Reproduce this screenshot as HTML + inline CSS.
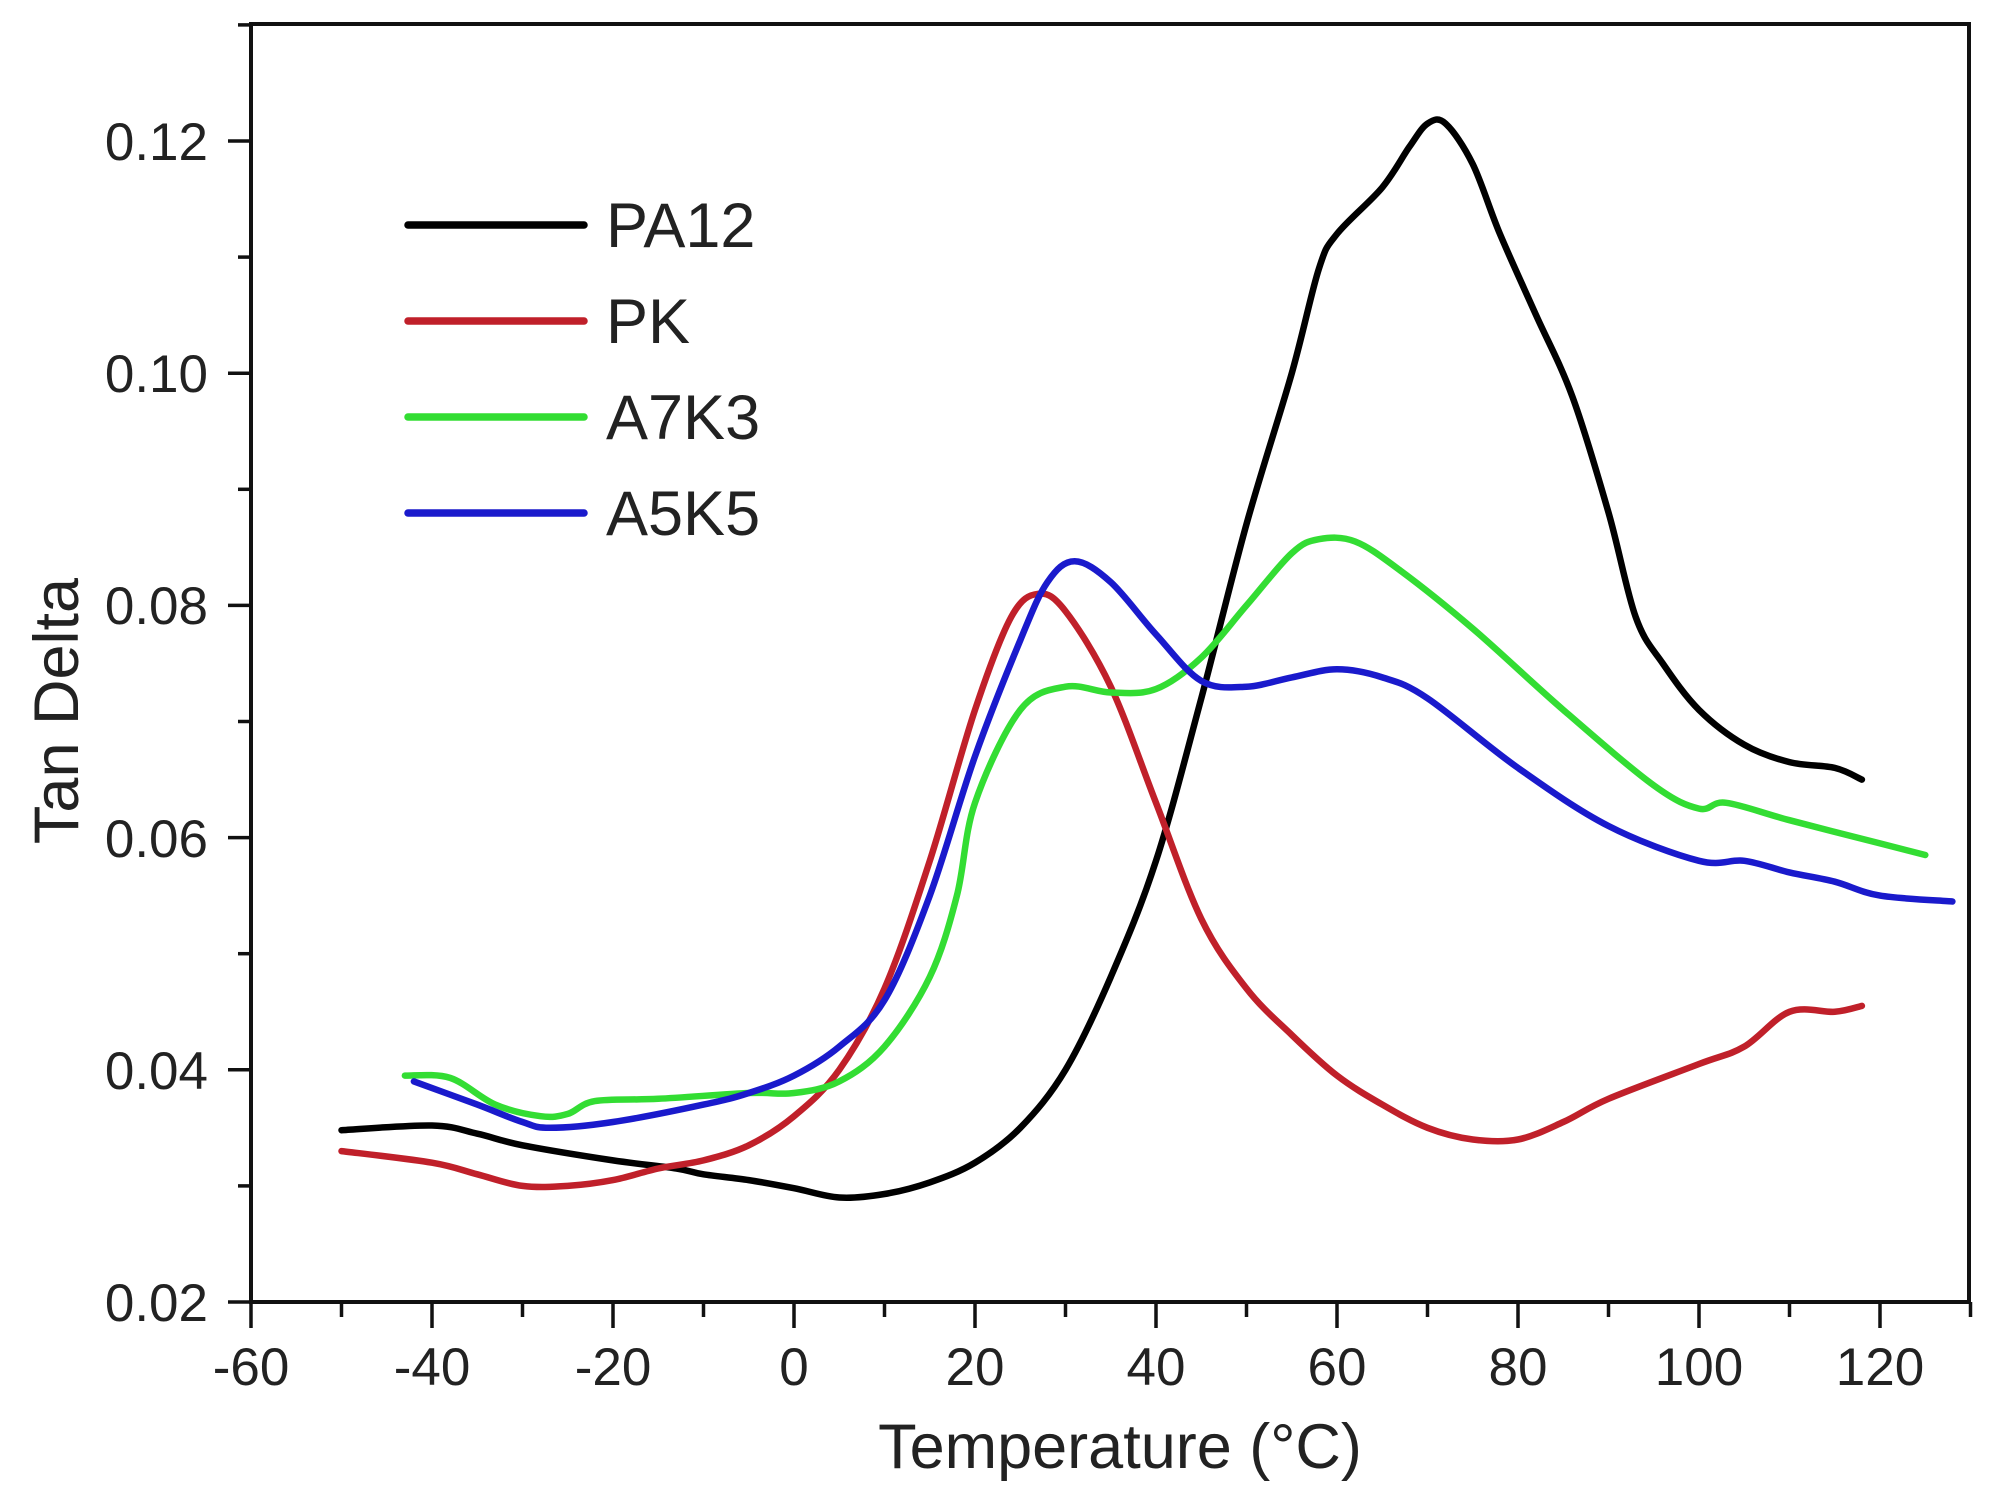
<!DOCTYPE html>
<html><head><meta charset="utf-8"><style>
html,body{margin:0;padding:0;background:#fff;}
svg{display:block;}
text{font-family:"Liberation Sans",Arial,sans-serif;fill:#222;}
</style></head><body>
<svg id="s" width="2009" height="1495" viewBox="0 0 2009 1495" xmlns="http://www.w3.org/2000/svg">
<rect x="0" y="0" width="2009" height="1495" fill="#fff"/>
<g id="curves" fill="none" stroke-width="6.5" stroke-linejoin="round" stroke-linecap="round"></g>
<rect x="251" y="24" width="1718" height="1278" fill="none" stroke="#111" stroke-width="4"/>
<g id="ticks" stroke="#111" stroke-width="3.5"></g>
<g font-size="53" text-anchor="end">
<text x="208" y="160">0.12</text>
<text x="208" y="392">0.10</text>
<text x="208" y="624">0.08</text>
<text x="208" y="857">0.06</text>
<text x="208" y="1089">0.04</text>
<text x="208" y="1321">0.02</text>
</g>
<g font-size="53" text-anchor="middle">
<text x="251" y="1385">-60</text>
<text x="432" y="1385">-40</text>
<text x="613" y="1385">-20</text>
<text x="794" y="1385">0</text>
<text x="975" y="1385">20</text>
<text x="1156" y="1385">40</text>
<text x="1337" y="1385">60</text>
<text x="1518" y="1385">80</text>
<text x="1699" y="1385">100</text>
<text x="1880" y="1385">120</text>
</g>
<text x="1120" y="1468" font-size="63" text-anchor="middle">Temperature (°C)</text>
<text transform="translate(78,711) rotate(-90)" font-size="63" text-anchor="middle">Tan Delta</text>
<g stroke-width="7.5" stroke-linecap="round">
<line x1="408" y1="225" x2="584" y2="225" stroke="#000"/>
<line x1="408" y1="321" x2="584" y2="321" stroke="#c0202a"/>
<line x1="408" y1="417" x2="584" y2="417" stroke="#33dd33"/>
<line x1="408" y1="513" x2="584" y2="513" stroke="#1a1acc"/>
</g>
<g font-size="63">
<text x="606" y="247">PA12</text>
<text x="606" y="343">PK</text>
<text x="606" y="439">A7K3</text>
<text x="606" y="535">A5K5</text>
</g>
</svg>
<script>
var X=function(t){return 251+(t+60)*9.05;},Y=function(v){return 1302-(v-0.02)*11610;};
var NS="http://www.w3.org/2000/svg";
var data={
"#000":[[-50,.0348],[-40,.0352],[-35,.0345],[-30,.0335],[-20,.0322],[-13,.0315],[-10,.031],[-5,.0305],[0,.0298],[5,.029],[10,.0293],[15,.0303],[20,.032],[25,.035],[30,.040],[35,.048],[40,.058],[45,.072],[50,.087],[55,.100],[58,.109],[60,.112],[65,.116],[68,.1195],[70,.1215],[72,.1215],[75,.118],[78,.112],[82,.105],[86,.098],[90,.088],[93,.079],[96,.075],[100,.071],[105,.068],[110,.0665],[115,.066],[118,.065]],
"#c0202a":[[-50,.033],[-40,.032],[-35,.031],[-30,.030],[-25,.030],[-20,.0305],[-15,.0315],[-10,.0322],[-5,.0335],[0,.036],[5,.040],[10,.047],[15,.058],[20,.071],[24,.079],[27,.081],[30,.0795],[35,.073],[40,.063],[45,.053],[50,.047],[55,.043],[60,.0395],[65,.037],[70,.035],[75,.034],[80,.034],[85,.0355],[90,.0375],[100,.0405],[105,.042],[110,.045],[115,.045],[118,.0455]],
"#33dd33":[[-43,.0395],[-38,.0393],[-33,.037],[-28,.036],[-25,.0362],[-22,.0373],[-15,.0375],[-5,.038],[0,.038],[5,.039],[10,.042],[15,.048],[18,.055],[20,.063],[25,.071],[30,.073],[35,.0725],[40,.0728],[45,.0755],[50,.080],[55,.0845],[58,.0857],[62,.0855],[67,.083],[75,.078],[85,.071],[95,.0645],[100,.0625],[103,.063],[110,.0615],[120,.0595],[125,.0585]],
"#1a1acc":[[-42,.039],[-35,.037],[-30,.0355],[-27,.035],[-20,.0355],[-10,.037],[-5,.038],[0,.0395],[5,.042],[10,.046],[15,.055],[20,.067],[25,.077],[28,.082],[31,.0838],[35,.082],[40,.0775],[45,.0735],[50,.073],[55,.0738],[60,.0745],[65,.0738],[70,.072],[80,.066],[90,.061],[100,.058],[105,.058],[110,.057],[115,.0562],[120,.055],[128,.0545]]};
var g=document.getElementById("curves");
for(var c in data){
var P=data[c].map(function(d){return [X(d[0]),Y(d[1])];});
var s="M"+P[0][0].toFixed(1)+","+P[0][1].toFixed(1);
for(var i=0;i<P.length-1;i++){
var p0=P[Math.max(i-1,0)],p1=P[i],p2=P[i+1],p3=P[Math.min(i+2,P.length-1)];
var c1x=p1[0]+(p2[0]-p0[0])/6,c1y=p1[1]+(p2[1]-p0[1])/6;
var c2x=p2[0]-(p3[0]-p1[0])/6,c2y=p2[1]-(p3[1]-p1[1])/6;
s+=" C"+c1x.toFixed(1)+","+c1y.toFixed(1)+" "+c2x.toFixed(1)+","+c2y.toFixed(1)+" "+p2[0].toFixed(1)+","+p2[1].toFixed(1);}
var p=document.createElementNS(NS,"path");p.setAttribute("d",s);p.setAttribute("stroke",c);g.appendChild(p);}
var tg=document.getElementById("ticks");
function ln(a,b,c,d){var l=document.createElementNS(NS,"line");l.setAttribute("x1",a);l.setAttribute("y1",b);l.setAttribute("x2",c);l.setAttribute("y2",d);tg.appendChild(l);}
for(var t=-60;t<=130;t+=10){var x=X(t);ln(x,1302,x,(t%20==0)?1328:1317);}
for(var v=0.02;v<=0.1301;v+=0.01){var y=Y(v);var maj=Math.round(v*100)%2==0;ln(251,y,maj?228:238,y);}
</script>
</body></html>
